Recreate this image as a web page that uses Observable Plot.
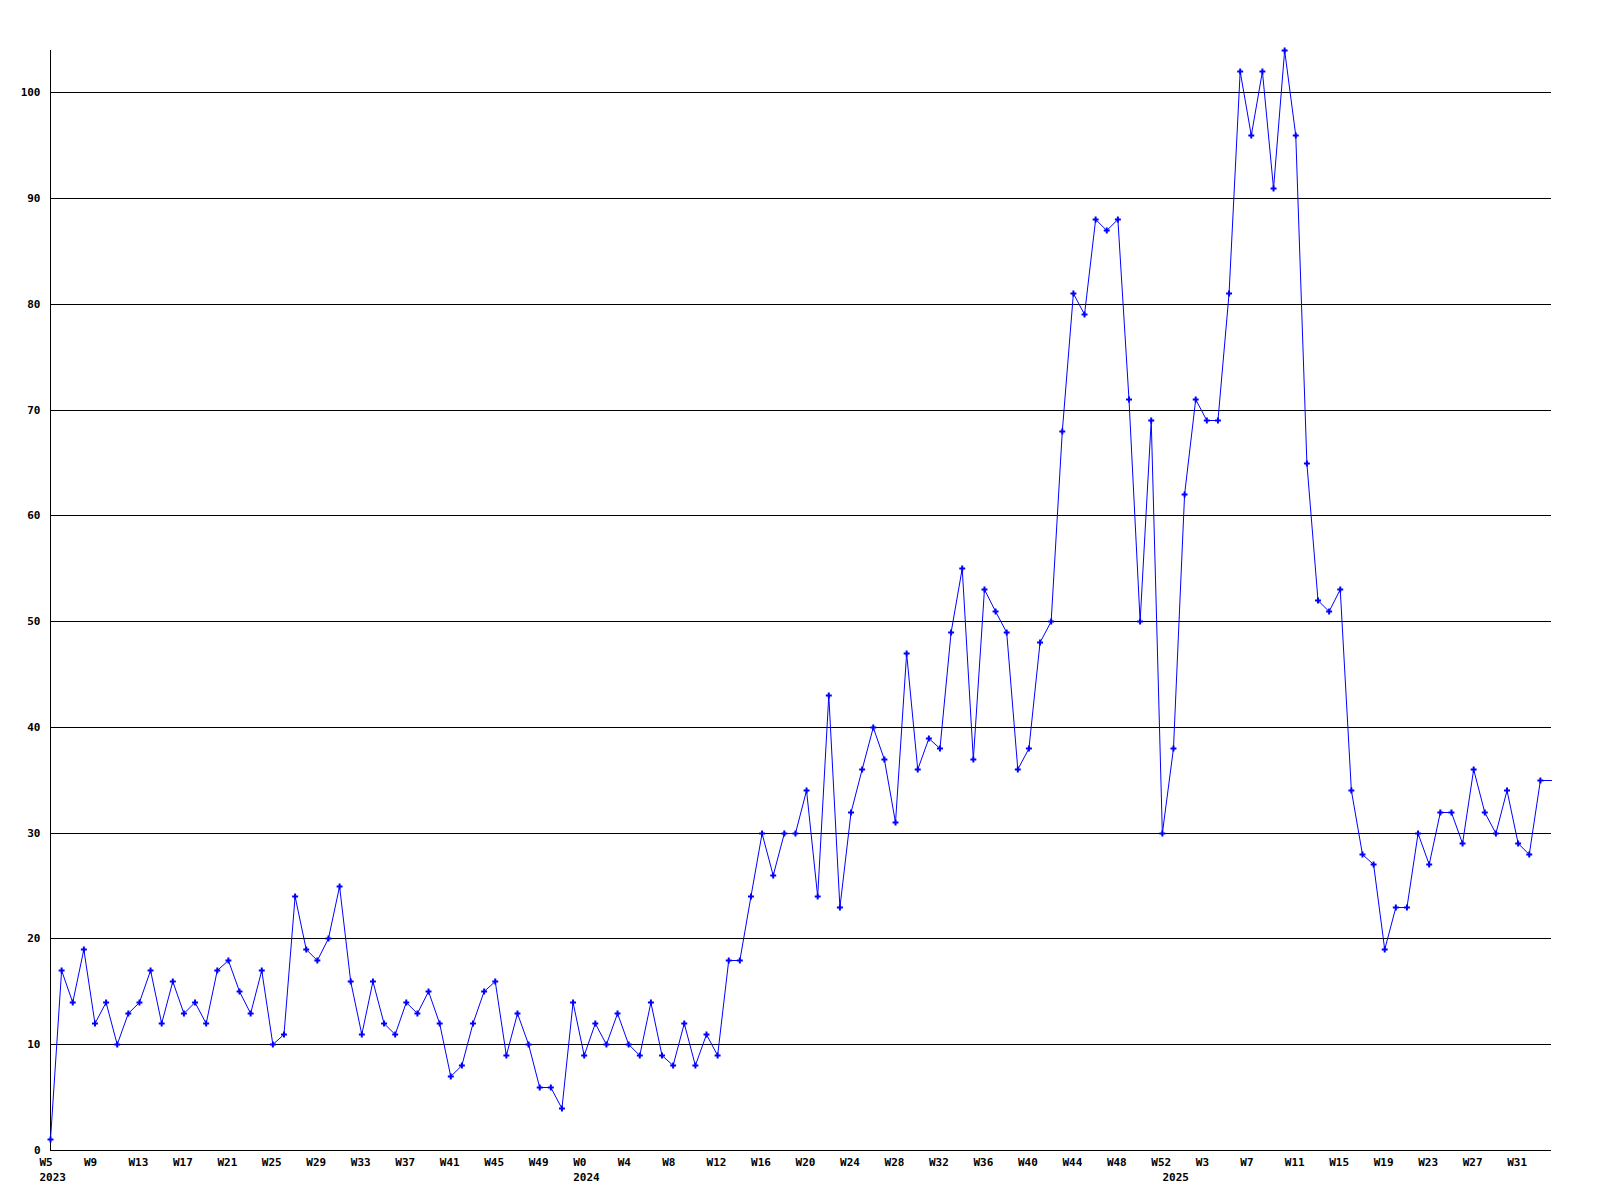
<!DOCTYPE html>
<html>
<head>
<meta charset="utf-8">
<script src="https://cdn.jsdelivr.net/npm/d3@7"></script>
<script src="https://cdn.jsdelivr.net/npm/@observablehq/plot@0.6"></script>
<style>
  html, body { margin: 0; padding: 0; background: #ffffff; }
  #chart { width: 1600px; height: 1200px; }
</style>
</head>
<body>
<div id="chart"></div>
<script>
// Weekly values, 2023 W5 through 2025 W33
const values = [
  1, 17, 14, 19, 12, 14, 10, 13, 14, 17, 12, 16, 13, 14, 12, 17, 18, 15, 13, 17,
  10, 11, 24, 19, 18, 20, 25, 16, 11, 16, 12, 11, 14, 13, 15, 12, 7, 8, 12, 15,
  16, 9, 13, 10, 6, 6, 4, 14, 9, 12, 10, 13, 10, 9, 14, 9, 8, 12, 8, 11,
  9, 18, 18, 24, 30, 26, 30, 30, 34, 24, 43, 23, 32, 36, 40, 37, 31, 47, 36, 39,
  38, 49, 55, 37, 53, 51, 49, 36, 38, 48, 50, 68, 81, 79, 88, 87, 88, 71, 50, 69,
  30, 38, 62, 71, 69, 69, 81, 102, 96, 102, 91, 104, 96, 65, 52, 51, 53, 34, 28, 27,
  19, 23, 23, 30, 27, 32, 32, 29, 36, 32, 30, 34, 29, 28, 35
];
// Year / week ranges covered by the series
const years = ["2023", "2024", "2025"];
const firstWeeks = [5, 0, 0];
const lastWeeks = [52, 52, 33];
const yTicks = [0, 10, 20, 30, 40, 50, 60, 70, 80, 90, 100];
const labelEvery = 4;

// Build per-point categories
const weekLabels = [];
const yearStartIdx = [];
years.forEach((yr, k) => {
  yearStartIdx.push(weekLabels.length);
  for (let w = firstWeeks[k]; w <= lastWeeks[k]; w++) weekLabels.push({year: yr, week: "W" + w});
});
const data = values.map((v, i) => ({i, v, week: weekLabels[i].week, year: weekLabels[i].year}));
const n = data.length;
// line continues to the right edge at the last value
const lineData = data.concat([{i: n, v: data[n - 1].v}]);
const tickIdx = d3.range(0, n, labelEvery);

const font = "'DejaVu Sans Mono', 'Liberation Mono', monospace";

const chart = Plot.plot({
  width: 1600,
  height: 1200,
  marginLeft: 50,
  marginRight: 49,
  marginTop: 50,
  marginBottom: 50,
  style: {fontFamily: font, fontSize: "11px", background: "#ffffff", color: "#000"},
  x: {domain: [0, n], label: null},
  y: {domain: [0, d3.max(values)], label: null, round: true},
  marks: [
    Plot.ruleY(yTicks.filter(t => t > 0), {stroke: "#000", strokeWidth: 1}),
    Plot.ruleX([0], {stroke: "#000", strokeWidth: 1}),
    Plot.ruleY([0], {stroke: "#000", strokeWidth: 1}),
    Plot.axisY({ticks: yTicks, tickSize: 0, tickPadding: 10, fontWeight: "bold", label: null, tickFormat: d => String(d)}),
    Plot.axisX({ticks: tickIdx, tickSize: 0, tickPadding: 8, textAnchor: "start", dx: -11, fontWeight: "bold", label: null,
      tickFormat: i => weekLabels[i].week}),
    Plot.axisX({ticks: yearStartIdx, tickSize: 0, tickPadding: 23, textAnchor: "start", dx: -11, fontWeight: "bold", label: null,
      tickFormat: i => weekLabels[i].year}),
    Plot.line(lineData, {x: "i", y: "v", stroke: "#0000ff", strokeWidth: 1}),
    Plot.dot(data, {x: "i", y: "v", symbol: "cross", r: 2.5, fill: "#0000ff", stroke: "none"})
  ]
});
document.getElementById("chart").appendChild(chart);
</script>
</body>
</html>
